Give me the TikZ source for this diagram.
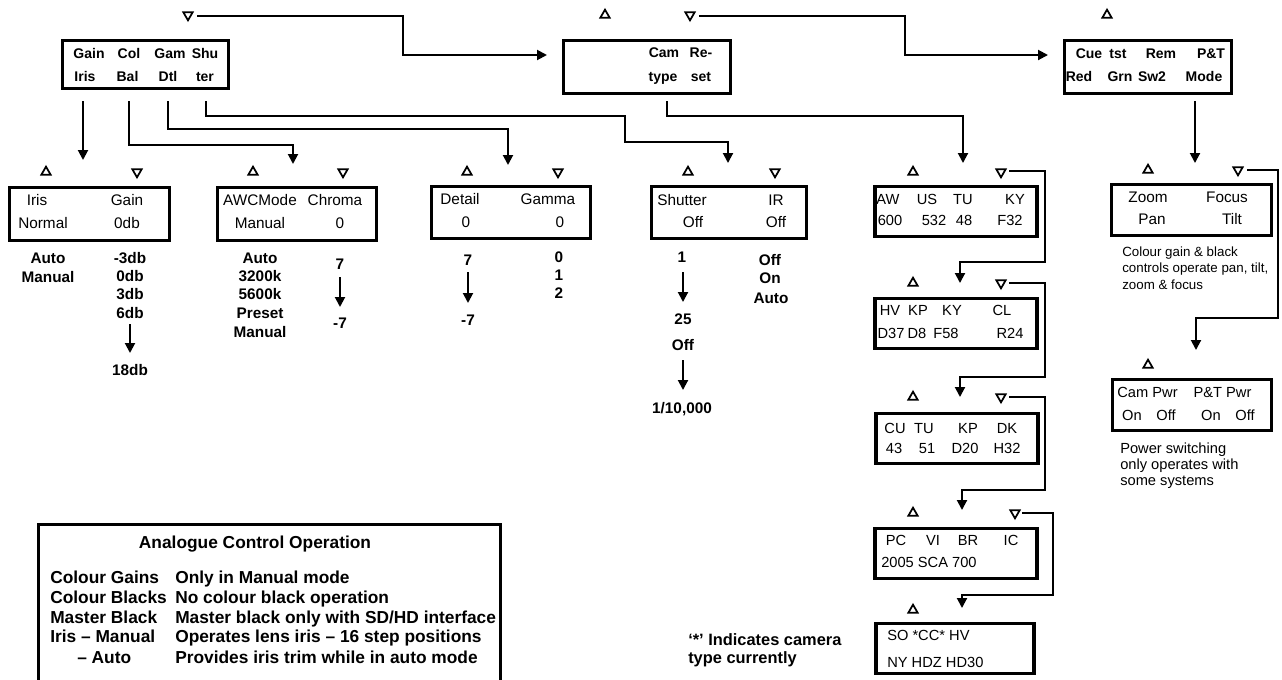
\documentclass[tikz,border=0pt]{standalone}
\usepackage{fontspec}
\setmainfont{Liberation Sans}
\usetikzlibrary{arrows.meta,shapes.geometric}
\tikzset{
  frame/.style={draw, line width=2.6pt, inner sep=0pt},
  wire/.style={line width=1.5pt},
  conn/.style={line width=1.5pt, -{Triangle[width=7.5pt,length=7.5pt]}},
  uptri/.style={regular polygon, regular polygon sides=3, draw, line width=1.3pt, minimum size=8pt, inner sep=0pt},
  dntri/.style={uptri, shape border rotate=180},
  tb/.style={font=\bfseries\fontsize{10.5}{12}\selectfont, inner sep=0pt, text height=7.6pt, text depth=0pt},
  rg/.style={font=\fontsize{11.5}{13}\selectfont, inner sep=0pt, text height=8.3pt, text depth=0pt},
  rs/.style={font=\fontsize{11}{13}\selectfont, inner sep=0pt, text height=7.9pt, text depth=0pt},
  lb/.style={font=\bfseries\fontsize{11.5}{13}\selectfont, inner sep=0pt, text height=8.3pt, text depth=0pt},
  qb/.style={font=\bfseries\fontsize{12.3}{14}\selectfont, inner sep=0pt, text height=8.8pt, text depth=0pt, anchor=west},
  nt/.style={font=\fontsize{10}{12}\selectfont, inner sep=0pt, text height=7.2pt, text depth=0pt, anchor=west},
  nt2/.style={font=\fontsize{11}{13}\selectfont, inner sep=0pt, text height=7.9pt, text depth=0pt, anchor=west},
  an/.style={font=\bfseries\fontsize{13}{15}\selectfont, inner sep=0pt, text height=9.4pt, text depth=0pt, anchor=west},
}
\begin{document}
\begin{tikzpicture}[x=0.75pt,y=-0.75pt]
\useasboundingbox (0,0) rectangle (1282,679);
\clip (0,0) rectangle (1282,679);
\fill[white] (0,0) rectangle (1282,679);

% ---------- top row boxes ----------
\node[frame, minimum width=124.5pt, minimum height=36pt] (b1) at (145.5,64.5) {};
\node[frame, minimum width=125.25pt, minimum height=39.75pt] (b2) at (647,67) {};
\node[frame, minimum width=125.25pt, minimum height=39.75pt] (b3) at (1148,67) {};

\node[dntri] (t1) at (188,15) {};
\node[uptri] (t2) at (605,15) {};
\node[dntri] (t3) at (690,15) {};
\node[uptri] (t4) at (1107,15) {};

\node[tb] (b1a) at (89,53) {Gain};
\node[tb] (b1b) at (129,53) {Col};
\node[tb] (b1c) at (170,53) {Gam};
\node[tb] (b1d) at (205,53) {Shu};
\node[tb] (b1e) at (85,76) {Iris};
\node[tb] (b1f) at (127.5,76) {Bal};
\node[tb] (b1g) at (168,76) {Dtl};
\node[tb] (b1h) at (205,76) {ter};

\node[tb] (b2a) at (664,52) {Cam};
\node[tb] (b2b) at (701,52) {Re-};
\node[tb] (b2c) at (663,76) {type};
\node[tb] (b2d) at (701,76) {set};

\node[tb] (b3a) at (1089,53) {Cue};
\node[tb] (b3b) at (1118,53) {tst};
\node[tb] (b3c) at (1161,53) {Rem};
\node[tb] (b3d) at (1211,53) {P\&T};
\node[tb] (b3e) at (1079,76) {Red};
\node[tb] (b3f) at (1120,76) {Grn};
\node[tb] (b3g) at (1152,76) {Sw2};
\node[tb] (b3h) at (1204,76) {Mode};

% ---------- second row boxes ----------
\node[frame, minimum width=120pt, minimum height=39.75pt] (ib) at (89.5,214) {};
\node[frame, minimum width=119.25pt, minimum height=39.75pt] (cb) at (297,214) {};
\node[frame, minimum width=119.25pt, minimum height=39pt] (db) at (511,212.5) {};
\node[frame, minimum width=116.25pt, minimum height=39pt] (sb) at (729,212.5) {};
\node[frame, minimum width=121.5pt, minimum height=37.5pt] (aw) at (956,211.5) {};
\node[frame, minimum width=121.5pt, minimum height=37.5pt] (hv) at (956,323.5) {};
\node[frame, minimum width=121.5pt, minimum height=37.5pt] (cu) at (957,438.5) {};
\node[frame, minimum width=121.5pt, minimum height=37.5pt] (pc) at (956,553.5) {};
\node[frame, minimum width=118.5pt, minimum height=37.5pt] (so) at (955,648.5) {};
\node[frame, minimum width=120pt, minimum height=38.25pt] (zf) at (1191.5,210) {};
\node[frame, minimum width=119.25pt, minimum height=38.25pt] (cp) at (1192,405) {};

% triangles
\node[uptri] (ib1) at (46,172) {};   \node[dntri] (ib2) at (137,172) {};
\node[uptri] (cb1) at (253,172) {};  \node[dntri] (cb2) at (343,172) {};
\node[uptri] (db1) at (467,172) {};  \node[dntri] (db2) at (558,172) {};
\node[uptri] (sb1) at (688,172) {};  \node[dntri] (sb2) at (775,172) {};
\node[uptri] (aw1) at (913,172) {};  \node[dntri] (aw2) at (1001,172) {};
\node[uptri] (hv1) at (913,283) {};  \node[dntri] (hv2) at (1001,283) {};
\node[uptri] (cu1) at (913,397) {};  \node[dntri] (cu2) at (1001,397) {};
\node[uptri] (pc1) at (913,513) {};  \node[dntri] (pc2) at (1015,513) {};
\node[uptri] (so1) at (913,610) {};
\node[uptri] (zf1) at (1148,170) {}; \node[dntri] (zf2) at (1238,170) {};
\node[uptri] (cp1) at (1148,365) {};

% box texts
\node[rg] (ia) at (37,200) {Iris};
\node[rg] (ig) at (127,200) {Gain};
\node[rg] (in) at (43,223) {Normal};
\node[rg] (i0) at (127,223) {0db};

\node[rg] (ca) at (260,200) {AWCMode};
\node[rg] (cc) at (335,200) {Chroma};
\node[rg] (cm) at (260,223) {Manual};
\node[rg] (c0) at (340,223) {0};

\node[rg] (da) at (460,199) {Detail};
\node[rg] (dg) at (548,199) {Gamma};
\node[rg] (d0) at (466,222) {0};
\node[rg] (d1) at (560,222) {0};

\node[rg] (sa) at (682,200) {Shutter};
\node[rg] (si) at (776,200) {IR};
\node[rg] (so0) at (693,222) {Off};
\node[rg] (so2) at (776,222) {Off};

\node[rs] (awa) at (888,199) {AW};
\node[rs] (awb) at (927,199) {US};
\node[rs] (awc) at (963,199) {TU};
\node[rs] (awd) at (1015,199) {KY};
\node[rs] (awe) at (890,220) {600};
\node[rs] (awf) at (934,220) {532};
\node[rs] (awg) at (964,220) {48};
\node[rs] (awh) at (1010,220) {F32};

\node[rs] (hva) at (890,310) {HV};
\node[rs] (hvb) at (918,310) {KP};
\node[rs] (hvc) at (952,310) {KY};
\node[rs] (hvd) at (1002,310) {CL};
\node[rs] (hve) at (891,333) {D37};
\node[rs] (hvf) at (917,333) {D8};
\node[rs] (hvg) at (946,333) {F58};
\node[rs] (hvh) at (1010,333) {R24};

\node[rs] (cua) at (895,428) {CU};
\node[rs] (cub) at (924,428) {TU};
\node[rs] (cuc) at (968,428) {KP};
\node[rs] (cud) at (1007,428) {DK};
\node[rs] (cue) at (894,448) {43};
\node[rs] (cuf) at (927,448) {51};
\node[rs] (cug) at (965,448) {D20};
\node[rs] (cuh) at (1007,448) {H32};

\node[rs] (pca) at (896,540) {PC};
\node[rs] (pcb) at (933,540) {VI};
\node[rs] (pcc) at (968,540) {BR};
\node[rs] (pcd) at (1011,540) {IC};
\node[rs, anchor=west] (pce) at (881,562) {2005 SCA 700};

\node[rs, anchor=west] (soa) at (887,635) {SO *CC* HV};
\node[rs, anchor=west] (sob) at (887,662) {NY HDZ HD30};

\node[rg] (zfa) at (1148,197) {Zoom};
\node[rg] (zfb) at (1227,197) {Focus};
\node[rg] (zfc) at (1152,219) {Pan};
\node[rg] (zfd) at (1232,219) {Tilt};

\node[rs] (cpa) at (1147.5,392) {Cam Pwr};
\node[rs] (cpb) at (1222.5,392) {P\&T Pwr};
\node[rs] (cpc) at (1132,415) {On};
\node[rs] (cpd) at (1166,415) {Off};
\node[rs] (cpe) at (1211,415) {On};
\node[rs] (cpf) at (1245,415) {Off};

% value lists
\node[lb] (l1) at (48,258) {Auto};
\node[lb] (l2) at (48,277) {Manual};
\node[lb] (g1) at (130,258) {-3db};
\node[lb] (g2) at (130,276) {0db};
\node[lb] (g3) at (130,294) {3db};
\node[lb] (g4) at (130,313) {6db};
\node[lb] (g5) at (130,370) {18db};
\node[lb] (w1) at (260,258) {Auto};
\node[lb] (w2) at (260,276) {3200k};
\node[lb] (w3) at (260,294) {5600k};
\node[lb] (w4) at (260,313) {Preset};
\node[lb] (w5) at (260,332) {Manual};
\node[lb] (h1) at (340,264) {7};
\node[lb] (h2) at (340,323) {-7};
\node[lb] (dt1) at (468,260) {7};
\node[lb] (dt2) at (468,320) {-7};
\node[lb] (m1) at (559,257) {0};
\node[lb] (m2) at (559,275) {1};
\node[lb] (m3) at (559,293) {2};
\node[lb] (u1) at (682,257) {1};
\node[lb] (u2) at (683,319) {25};
\node[lb] (u3) at (683,345) {Off};
\node[lb] (u4) at (682,408) {1/10,000};
\node[lb] (r1) at (770,260) {Off};
\node[lb] (r2) at (770,278) {On};
\node[lb] (r3) at (771,298) {Auto};

% notes
\node[nt] (n1) at (1122,252) {Colour gain \& black};
\node[nt] (n2) at (1122,268) {controls operate pan, tilt,};
\node[nt] (n3) at (1122,285) {zoom \& focus};
\node[nt2] (p1) at (1120,448) {Power switching};
\node[nt2] (p2) at (1120,464) {only operates with};
\node[nt2] (p3) at (1120,480) {some systems};
\node[qb] (q1) at (688,640) {‘*’ Indicates camera};
\node[qb] (q2) at (688,658) {type currently};

% analogue box
\node[frame, line width=2pt, minimum width=346.5pt, minimum height=131pt] (ana) at (269.5,612) {};
\node[an, anchor=center] (at) at (255,542) {Analogue Control Operation};
\node[an] (a1) at (50,577) {Colour Gains};
\node[an] (a2) at (50,597) {Colour Blacks};
\node[an] (a3) at (50,617) {Master Black};
\node[an] (a4) at (50,636) {Iris – Manual};
\node[an] (a5) at (77,657) {– Auto};
\node[an] (a6) at (175,577) {Only in Manual mode};
\node[an] (a7) at (175,597) {No colour black operation};
\node[an] (a8) at (175,617) {Master black only with SD/HD interface};
\node[an] (a9) at (175,636) {Operates lens iris – 16 step positions};
\node[an] (a10) at (175,657) {Provides iris trim while in auto mode};

% ---------- connectors ----------
\coordinate (s1) at (197,16);  \coordinate (e1) at (547,55);
\draw[conn] (s1) -| (403,55) -- (e1);
\coordinate (s2) at (699,16);  \coordinate (e2) at (1048,55);
\draw[conn] (s2) -| (905,55) -- (e2);
\coordinate (s3) at (83,101);  \coordinate (e3) at (83,160);
\draw[conn] (s3) -- (e3);
\coordinate (s4) at (129,101); \coordinate (e4) at (293,164);
\draw[conn] (s4) |- (293,145) -- (e4);
\coordinate (s5) at (168,101); \coordinate (e5) at (508,165);
\draw[conn] (s5) |- (508,129) -- (e5);
\coordinate (s6) at (206,101); \coordinate (e6) at (728,163);
\draw[conn] (s6) |- (625,116) |- (728,142) -- (e6);
\coordinate (s7) at (667,101); \coordinate (e7) at (963,163);
\draw[conn] (s7) |- (963,116) -- (e7);
\coordinate (s8) at (1195,101); \coordinate (e8) at (1195,163);
\draw[conn] (s8) -- (e8);
\coordinate (s9) at (1009,171); \coordinate (e9) at (960,283);
\draw[conn] (s9) -| (1045,262) -| (e9);
\coordinate (s10) at (1009,283); \coordinate (e10) at (960,397);
\draw[conn] (s10) -| (1045,377) -| (e10);
\coordinate (s11) at (1009,397); \coordinate (e11) at (962,510);
\draw[conn] (s11) -| (1045,490) -| (e11);
\coordinate (s12) at (1022,513); \coordinate (e12) at (962,608);
\draw[conn] (s12) -| (1053,595) -| (e12);
\coordinate (s13) at (1247,170); \coordinate (e13) at (1196,350);
\draw[conn] (s13) -| (1278,318) -| (e13);

% value arrows
\coordinate (v1a) at (130,324); \coordinate (v1b) at (130,353);
\draw[conn] (v1a) -- (v1b);
\coordinate (v2a) at (340,277); \coordinate (v2b) at (340,307);
\draw[conn] (v2a) -- (v2b);
\coordinate (v3a) at (468,272); \coordinate (v3b) at (468,303);
\draw[conn] (v3a) -- (v3b);
\coordinate (v4a) at (683,272); \coordinate (v4b) at (683,302);
\draw[conn] (v4a) -- (v4b);
\coordinate (v5a) at (683,360); \coordinate (v5b) at (683,390);
\draw[conn] (v5a) -- (v5b);
\end{tikzpicture}
\end{document}
